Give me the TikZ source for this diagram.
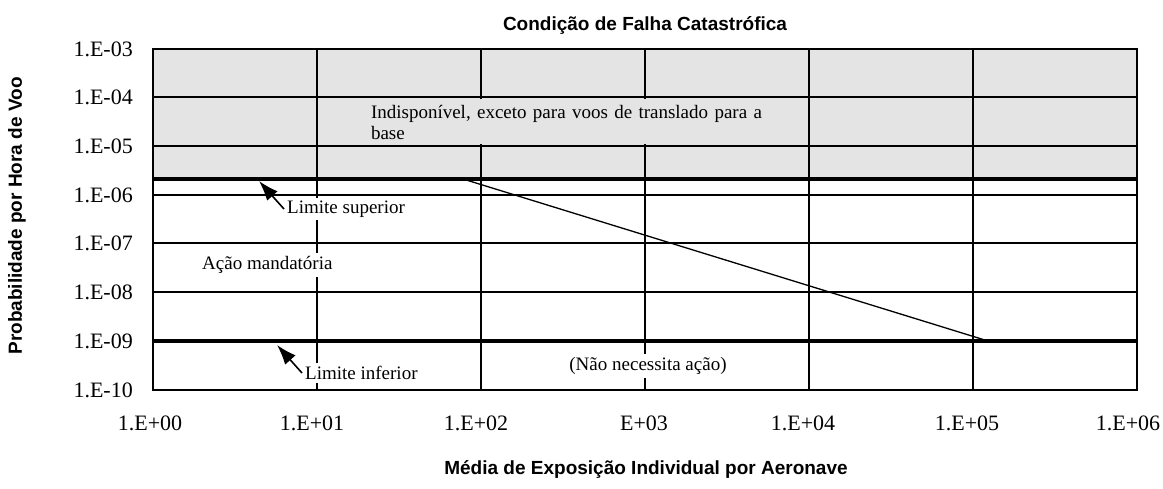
\documentclass[tikz,border=0pt]{standalone}
\usepackage{fontspec}
\setmainfont{Liberation Serif}
\setsansfont{Liberation Sans}
\usepackage{xcolor}
\usetikzlibrary{arrows.meta,calc,positioning}
\definecolor{zonegray}{HTML}{E4E4E4}

\begin{document}
\begin{tikzpicture}[x=1pt,y=-1pt]
		\tikzstyle{ytick}=[anchor=east, inner sep=0pt, font=\fontsize{22}{24}\selectfont]
		\tikzstyle{xtick}=[inner sep=0pt, font=\fontsize{22}{24}\selectfont]
		\tikzstyle{note}=[fill=white, inner sep=3pt, font=\fontsize{19}{21}\selectfont]
		\tikzstyle{axtitle}=[font=\sffamily\bfseries\fontsize{19}{21}\selectfont]
		\tikzstyle{pointer}=[line width=1.6pt, -{Latex[length=20pt,width=14pt]}]
		\useasboundingbox (0,0) rectangle (1163,489);
		% shaded zone above the upper limit
		\fill [zonegray] (153,49) rectangle (1137,179);
		% grid
		\draw [line width=2pt] (317,49) -- (317,390);
		\draw [line width=2pt] (481,49) -- (481,390);
		\draw [line width=2pt] (645,49) -- (645,390);
		\draw [line width=2pt] (809,49) -- (809,390);
		\draw [line width=2pt] (973,49) -- (973,390);
		\draw [line width=2pt] (153,97.5) -- (1137,97.5);
		\draw [line width=2pt] (153,146) -- (1137,146);
		\draw [line width=2pt] (153,195) -- (1137,195);
		\draw [line width=2pt] (153,243.5) -- (1137,243.5);
		\draw [line width=2pt] (153,292) -- (1137,292);
		% region labels
		\node [note, fill=zonegray, text width=400pt, align=left, minimum height=45pt, inner xsep=20pt, inner ysep=0pt] (unavail) at (571,122) {Indisponível, exceto para voos de translado para a\\base};
		\node [note, anchor=west] (limsup) at (284,209) {Limite superior};
		\node [note, anchor=west] (mandat) at (199,265) {Ação mandatória};
		\node [note] (noaction) at (648,366) {(Não necessita ação)};
		\node [note, anchor=west] (liminf) at (302,373) {Limite inferior};
		% limits and frame
		\draw [line width=4.5pt] (153,179) -- (1137,179);
		\draw [line width=4.5pt] (153,341) -- (1137,341);
		\draw [line width=1.3pt] (463,179) -- (988,341);
		\draw [line width=2.4pt] (153,49) rectangle (1137,390);
		\coordinate (suptip) at (259,181);
		\coordinate (inftip) at (277,345);
		\draw [pointer] (limsup.west) -- (suptip);
		\draw [pointer] (liminf.west) -- (inftip);
		% axis values
		\node [ytick] (y3) at (133,49) {1.E-03};
		\node [ytick] (y4) at (133,97.5) {1.E-04};
		\node [ytick] (y5) at (133,146) {1.E-05};
		\node [ytick] (y6) at (133,195) {1.E-06};
		\node [ytick] (y7) at (133,243.5) {1.E-07};
		\node [ytick] (y8) at (133,292) {1.E-08};
		\node [ytick] (y9) at (133,341) {1.E-09};
		\node [ytick] (y10) at (133,390) {1.E-10};
		\node [xtick] (x0) at (150,423) {1.E+00};
		\node [xtick] (x1) at (312,423) {1.E+01};
		\node [xtick] (x2) at (476,423) {1.E+02};
		\node [xtick] (x3) at (644,423) {E+03};
		\node [xtick] (x4) at (803,423) {1.E+04};
		\node [xtick] (x5) at (967,423) {1.E+05};
		\node [xtick] (x6) at (1128,423) {1.E+06};
		% titles
		\node [axtitle] (title) at (645,26) {Condição de Falha Catastrófica};
		\node [axtitle, rotate=90] (ylabel) at (17,216) {Probabilidade por Hora de Voo};
		\node [axtitle] (xlabel) at (646,470) {Média de Exposição Individual por Aeronave};
	\end{tikzpicture}
\end{document}
